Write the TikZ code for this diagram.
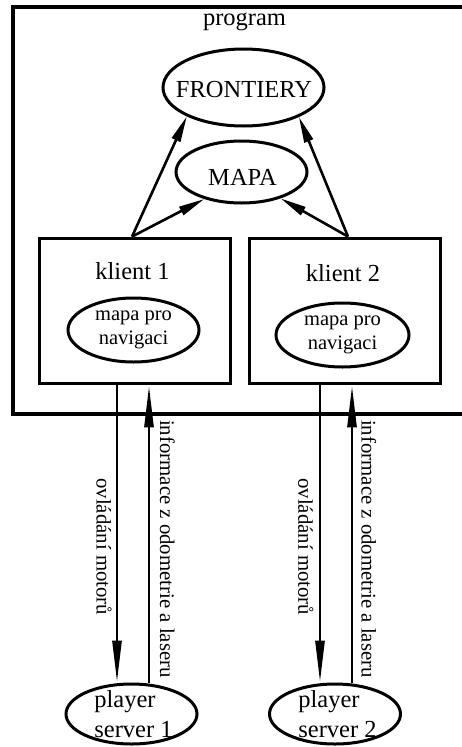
\documentclass[tikz,border=0pt]{standalone}
\usepackage{fontspec}
\setmainfont{Liberation Serif}
\usetikzlibrary{shapes.geometric,arrows.meta,positioning}
\newcommand{\fbig}{\fontsize{24.5}{30}\selectfont}
\newcommand{\fnav}{\fontsize{20.5}{24.5}\selectfont}
\newcommand{\fside}{\fontsize{20.8}{25}\selectfont}

\begin{document}
\begin{tikzpicture}[x=1pt,y=-1pt,
    oval/.style={draw,ellipse,line width=3pt,inner sep=0pt},
    box/.style={draw,rectangle,line width=3.8pt,minimum width=191pt,minimum height=145pt},
    link/.style={line width=2.6pt,-{Triangle[length=26pt,width=9pt]}},
    wire/.style={line width=2.8pt,-{Triangle[length=42pt,width=9pt]}},
    side/.style={rotate=-90,anchor=base west,inner sep=0pt,font=\fside}]
  \useasboundingbox (0,0) rectangle (461,747);
  % program
  \draw[line width=4.2pt] (13,7) rectangle (480,414);
  \node[anchor=base,font=\fbig] (prog) at (244.5,25) {program};
  \node[oval,minimum width=161pt,minimum height=77pt] (front) at (243.5,87.5) {};
  \node[anchor=base,font=\fbig] (frontt) at (244,97) {FRONTIERY};
  \node[oval,minimum width=131pt,minimum height=62pt] (mapa) at (241.5,172) {};
  \node[anchor=base,font=\fbig] (mapat) at (242.5,185) {MAPA};
  % klienti
  \node[box] (k1) at (135,311) {};
  \node[box] (k2) at (345,311) {};
  \node[anchor=base,font=\fbig] (k1t) at (132.5,279) {klient 1};
  \node[anchor=base,font=\fbig] (k2t) at (343,281) {klient 2};
  \node[oval,minimum width=131pt,minimum height=64pt] (nav1) at (133.5,330) {};
  \node[oval,minimum width=133pt,minimum height=64pt] (nav2) at (342.5,335) {};
  \node[font=\fnav,align=center,inner sep=0pt] (nav1t) at (nav1) {mapa pro\\navigaci};
  \node[font=\fnav,align=center,inner sep=0pt] (nav2t) at (nav2) {mapa pro\\navigaci};
  \draw[link] ([xshift=-3pt]k1.north) -- (front.207);
  \draw[link] ([xshift=-3pt]k1.north) -- (mapa.216);
  \draw[link] ([xshift=3pt]k2.north) -- (front.332);
  \draw[link] ([xshift=3pt]k2.north) -- (mapa.326);
  % player servery
  \node[oval,minimum width=131pt,minimum height=60pt] (ps1) at (131.5,714) {};
  \node[oval,minimum width=131pt,minimum height=60pt] (ps2) at (335,714) {};
  \node[font=\fbig,align=left,inner sep=0pt] (ps1t) at (133.5,714.5) {player\\server 1};
  \node[font=\fbig,align=left,inner sep=0pt] (ps2t) at (337.5,714) {player\\server 2};
  \draw[wire] ([xshift=-18pt]k1.south) -- ([xshift=-14.5pt]ps1.north);
  \draw[wire] ([xshift=17.5pt]ps1.north) -- ([xshift=14pt]k1.south);
  \draw[wire] ([xshift=-25pt]k2.south) -- ([xshift=-15pt]ps2.north);
  \draw[wire] ([xshift=17pt]ps2.north) -- ([xshift=7pt]k2.south);
  \node[side] (ctl1) at (96.5,478) {ovládání motorů};
  \node[side] (inf1) at (160,420) {informace z odometrie a laseru};
  \node[side] (ctl2) at (298.3,478) {ovládání motorů};
  \node[side] (inf2) at (361.7,420) {informace z odometrie a laseru};
\end{tikzpicture}
\end{document}
